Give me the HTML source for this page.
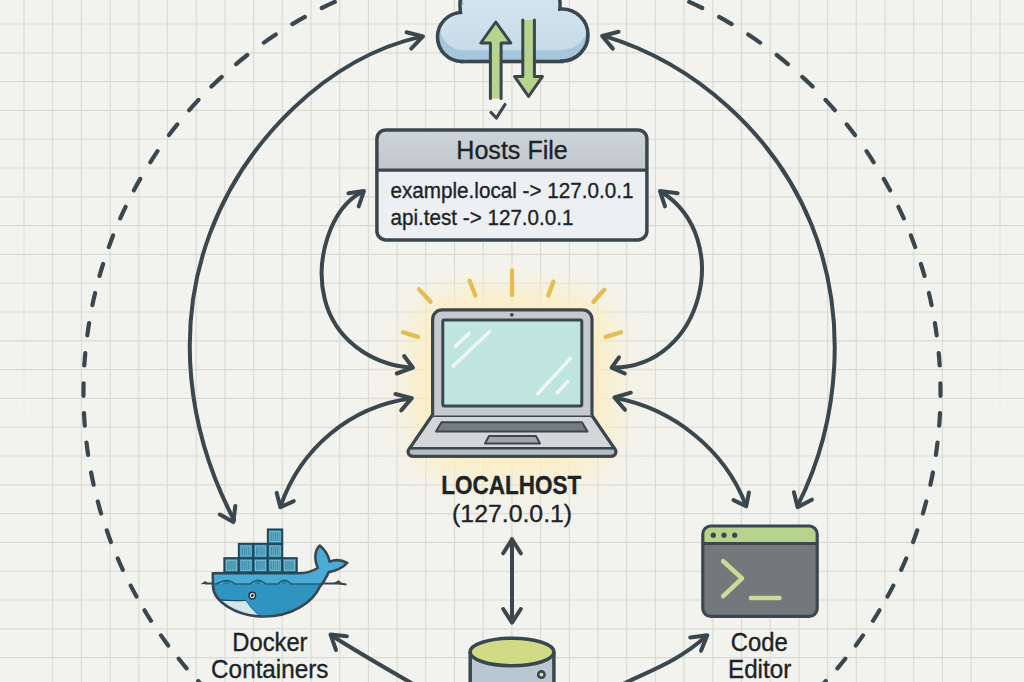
<!DOCTYPE html>
<html><head><meta charset="utf-8"><style>
html,body{margin:0;padding:0;width:1024px;height:682px;overflow:hidden;background:#f2f3ee}
svg{display:block}
text{font-family:"Liberation Sans",sans-serif;stroke:#1d2327;stroke-width:0.35px}
</style></head><body>
<svg width="1024" height="682" viewBox="0 0 1024 682">
<defs>
<radialGradient id="glow" cx="0.5" cy="0.5" r="0.5">
<stop offset="0" stop-color="#fbeab6" stop-opacity="0.7"/>
<stop offset="0.6" stop-color="#fbeec8" stop-opacity="0.4"/>
<stop offset="1" stop-color="#f6f0dc" stop-opacity="0"/>
</radialGradient>
<filter id="blur" x="-50%" y="-50%" width="200%" height="200%"><feGaussianBlur stdDeviation="14"/></filter>
<linearGradient id="gfade" gradientUnits="userSpaceOnUse" x1="0" y1="0" x2="0" y2="470"><stop offset="0" stop-color="#dadad5"/><stop offset="0.6" stop-color="#dadad5" stop-opacity="0.6"/><stop offset="1" stop-color="#dadad5" stop-opacity="0"/></linearGradient>
<linearGradient id="cloudg" gradientUnits="userSpaceOnUse" x1="0" y1="0" x2="0" y2="62">
<stop offset="0" stop-color="#d5e6f0"/><stop offset="1" stop-color="#c6dbe8"/>
</linearGradient>
<linearGradient id="hdrg" x1="0" y1="0" x2="0" y2="1">
<stop offset="0" stop-color="#ced5da"/><stop offset="1" stop-color="#c1c8cd"/>
</linearGradient>
</defs>
<rect width="1024" height="682" fill="#f2f3ee"/>
<path d="M24 0V682M1000 0V682" stroke="url(#gfade)" stroke-width="1.15" fill="none"/>
<path d="M52.70 0V682 M81.40 0V682 M110.10 0V682 M138.80 0V682 M167.50 0V682 M196.20 0V682 M224.90 0V682 M253.60 0V682 M282.30 0V682 M311.00 0V682 M339.70 0V682 M368.40 0V682 M397.10 0V682 M425.80 0V682 M454.50 0V682 M483.20 0V682 M511.90 0V682 M540.60 0V682 M569.30 0V682 M598.00 0V682 M626.70 0V682 M655.40 0V682 M684.10 0V682 M712.80 0V682 M741.50 0V682 M770.20 0V682 M798.90 0V682 M827.60 0V682 M856.30 0V682 M885.00 0V682 M913.70 0V682 M942.40 0V682 M971.10 0V682 M0 24.00H1024 M0 52.80H1024 M0 81.60H1024 M0 110.40H1024 M0 139.20H1024 M0 168.00H1024 M0 196.80H1024 M0 225.60H1024 M0 254.40H1024 M0 283.20H1024 M0 312.00H1024 M0 340.80H1024 M0 369.60H1024 M0 398.40H1024 M0 427.20H1024 M0 456.00H1024 M0 484.80H1024 M0 513.60H1024 M0 542.40H1024 M0 571.20H1024 M0 600.00H1024 M0 628.80H1024 M0 657.60H1024 M0 686.40H1024" stroke="#dadad5" stroke-width="1.15" fill="none"/>
<ellipse cx="512" cy="385" rx="160" ry="140" fill="url(#glow)"/>
<rect x="418" y="296" width="188" height="176" rx="30" fill="#fdeebd" opacity="0.85" filter="url(#blur)"/>
<path d="M251.4 729.6A426.5 426.5 0 0 1 241.7 721.9M782.3 721.9A426.5 426.5 0 0 1 772.6 729.6M228.5 710.6A426.5 426.5 0 0 1 219.3 702.2M804.7 702.2A426.5 426.5 0 0 1 795.5 710.6M206.9 690.1A426.6 426.6 0 0 1 198.3 681.1M825.7 681.1A426.6 426.6 0 0 1 817.1 690.1M186.6 668.3A426.8 426.8 0 0 1 178.7 658.7M845.3 658.7A426.8 426.8 0 0 1 837.4 668.3M168.2 645.5A427.1 427.1 0 0 1 161.0 635.4M863.0 635.4A427.1 427.1 0 0 1 855.8 645.5M151.0 620.8A427.4 427.4 0 0 1 144.5 610.2M879.5 610.2A427.4 427.4 0 0 1 873.0 620.8M136.5 596.6A427.6 427.6 0 0 1 130.7 585.6M893.3 585.6A427.6 427.6 0 0 1 887.5 596.6M122.8 569.9A427.9 427.9 0 0 1 117.8 558.5M906.2 558.5A427.9 427.9 0 0 1 901.2 569.9M110.9 542.0A428.2 428.2 0 0 1 106.8 530.3M917.2 530.3A428.2 428.2 0 0 1 913.1 542.0M101.1 513.5A428.5 428.5 0 0 1 97.8 501.5M926.2 501.5A428.5 428.5 0 0 1 922.9 513.5M93.6 484.7A428.5 428.5 0 0 1 91.1 472.5M932.9 472.5A428.5 428.5 0 0 1 930.4 484.7M88.1 454.9A428.5 428.5 0 0 1 86.5 442.6M937.5 442.6A428.5 428.5 0 0 1 935.9 454.9M84.8 425.6A428.5 428.5 0 0 1 84.0 413.2M940.0 413.2A428.5 428.5 0 0 1 939.2 425.6M83.5 395.8A428.5 428.5 0 0 1 83.6 383.4M940.4 383.4A428.5 428.5 0 0 1 940.5 395.8M84.3 365.4A428.5 428.5 0 0 1 85.3 353.0M938.7 353.0A428.5 428.5 0 0 1 939.7 365.4M87.3 335.3A428.5 428.5 0 0 1 89.1 323.1M934.9 323.1A428.5 428.5 0 0 1 936.7 335.3M92.4 305.1A428.5 428.5 0 0 1 95.1 293.0M928.9 293.0A428.5 428.5 0 0 1 931.6 305.1M99.5 275.9A428.5 428.5 0 0 1 103.1 264.0M920.9 264.0A428.5 428.5 0 0 1 924.5 275.9M108.8 247.1A428.5 428.5 0 0 1 113.1 235.4M910.9 235.4A428.5 428.5 0 0 1 915.2 247.1M120.2 218.4A428.5 428.5 0 0 1 125.6 206.8M898.4 206.8A428.5 428.5 0 0 1 903.8 218.4M133.9 190.3A428.5 428.5 0 0 1 140.2 178.9M883.8 178.9A428.5 428.5 0 0 1 890.1 190.3M150.3 162.3A428.5 428.5 0 0 1 157.5 151.2M866.5 151.2A428.5 428.5 0 0 1 873.7 162.3M169.0 135.1A428.5 428.5 0 0 1 177.3 124.4M846.7 124.4A428.5 428.5 0 0 1 855.0 135.1M189.2 110.2A428.5 428.5 0 0 1 198.5 99.9M825.5 99.9A428.5 428.5 0 0 1 834.8 110.2M211.4 86.6A428.5 428.5 0 0 1 221.7 76.9M802.3 76.9A428.5 428.5 0 0 1 812.6 86.6M236.1 64.1A428.5 428.5 0 0 1 247.3 55.0M776.7 55.0A428.5 428.5 0 0 1 787.9 64.1M263.9 42.6A428.5 428.5 0 0 1 275.8 34.5M748.2 34.5A428.5 428.5 0 0 1 760.1 42.6M292.4 24.1A428.5 428.5 0 0 1 304.9 16.9M719.1 16.9A428.5 428.5 0 0 1 731.6 24.1M321.8 8.0A428.5 428.5 0 0 1 334.8 1.9M689.2 1.9A428.5 428.5 0 0 1 702.2 8.0M352.4 -5.7A428.5 428.5 0 0 1 365.9 -10.8M658.1 -10.8A428.5 428.5 0 0 1 671.6 -5.7M384.1 -17.0A428.5 428.5 0 0 1 397.9 -21.0M626.1 -21.0A428.5 428.5 0 0 1 639.9 -17.0" fill="none" stroke="#3b474e" stroke-width="4.2" stroke-linecap="round"/>
<path d="M421.2 36.6 C327.5 57.7 245.3 140.0 210.1 233.1 C175.0 326.2 186.9 430.0 234.0 520.0" fill="none" stroke="#3b474e" stroke-width="4.0" stroke-linecap="round"/>
<path d="M406.5 32.2 L423.0 36.4 L411.2 48.6" fill="none" stroke="#3b474e" stroke-width="4.0" stroke-linecap="round" stroke-linejoin="round"/>
<path d="M219.9 514.6 L233.3 522.1 L235.3 505.9" fill="none" stroke="#3b474e" stroke-width="4.0" stroke-linecap="round" stroke-linejoin="round"/>
<path d="M603.8 35.9 C695.8 63.4 775.0 135.1 811.3 224.3 C847.5 313.4 840.7 419.9 797.9 505.2" fill="none" stroke="#3b474e" stroke-width="4.0" stroke-linecap="round"/>
<path d="M618.6 31.7 L602.2 36.0 L612.8 48.6" fill="none" stroke="#3b474e" stroke-width="4.0" stroke-linecap="round" stroke-linejoin="round"/>
<path d="M793.9 492.2 L797.6 507.1 L811.9 499.7" fill="none" stroke="#3b474e" stroke-width="4.0" stroke-linecap="round" stroke-linejoin="round"/>
<path d="M362.3 191.7 C329.8 208.7 315.0 260.0 324.7 298.9 C334.4 337.8 368.8 364.3 411.5 367.7" fill="none" stroke="#3b474e" stroke-width="4.0" stroke-linecap="round"/>
<path d="M404.1 356.0 L412.9 367.7 L396.8 373.5" fill="none" stroke="#3b474e" stroke-width="4.0" stroke-linecap="round" stroke-linejoin="round"/>
<path d="M348.4 193.2 L363.9 191.1 L358.7 206.4" fill="none" stroke="#3b474e" stroke-width="4.0" stroke-linecap="round" stroke-linejoin="round"/>
<path d="M661.5 192.0 C734.8 238.4 702.3 367.9 613.0 367.6" fill="none" stroke="#3b474e" stroke-width="4.0" stroke-linecap="round"/>
<path d="M619.0 357.4 L611.6 367.7 L624.8 373.5" fill="none" stroke="#3b474e" stroke-width="4.0" stroke-linecap="round" stroke-linejoin="round"/>
<path d="M677.6 193.2 L660.0 191.1 L665.0 206.4" fill="none" stroke="#3b474e" stroke-width="4.0" stroke-linecap="round" stroke-linejoin="round"/>
<path d="M410.5 398.5 C349.8 406.7 300.7 448.4 280.6 506.0" fill="none" stroke="#3b474e" stroke-width="4.0" stroke-linecap="round"/>
<path d="M395.4 394.0 L411.8 398.1 L401.2 410.4" fill="none" stroke="#3b474e" stroke-width="4.0" stroke-linecap="round" stroke-linejoin="round"/>
<path d="M276.7 492.9 L280.4 507.3 L293.8 501.1" fill="none" stroke="#3b474e" stroke-width="4.0" stroke-linecap="round" stroke-linejoin="round"/>
<path d="M615.8 398.0 C673.4 408.7 724.9 450.1 745.8 505.0" fill="none" stroke="#3b474e" stroke-width="4.0" stroke-linecap="round"/>
<path d="M630.8 392.7 L614.4 397.5 L625.0 409.8" fill="none" stroke="#3b474e" stroke-width="4.0" stroke-linecap="round" stroke-linejoin="round"/>
<path d="M733.5 500.1 L746.2 506.3 L748.9 492.5" fill="none" stroke="#3b474e" stroke-width="4.0" stroke-linecap="round" stroke-linejoin="round"/>
<path d="M331.5 635.5 C360.5 653.9 390.2 670.9 420.0 688.0" fill="none" stroke="#3b474e" stroke-width="4.0" stroke-linecap="round"/>
<path d="M346.9 636.3 L330.5 634.4 L336.0 650.0" fill="none" stroke="#3b474e" stroke-width="4.0" stroke-linecap="round" stroke-linejoin="round"/>
<path d="M706.0 636.5 C674.5 663.9 649.2 670.4 615.0 688.0" fill="none" stroke="#3b474e" stroke-width="4.0" stroke-linecap="round"/>
<path d="M690.2 637.5 L707.3 635.2 L701.0 650.8" fill="none" stroke="#3b474e" stroke-width="4.0" stroke-linecap="round" stroke-linejoin="round"/>
<path d="M512 540V622" stroke="#3b474e" stroke-width="4.0" stroke-linecap="round"/>
<path d="M503.2 553.3 L512.0 539.2 L520.8 553.3" fill="none" stroke="#3b474e" stroke-width="4.0" stroke-linecap="round" stroke-linejoin="round"/>
<path d="M503.2 609.0 L512.0 622.6 L520.8 609.0" fill="none" stroke="#3b474e" stroke-width="4.0" stroke-linecap="round" stroke-linejoin="round"/>
<g fill="#3b474e" stroke="#3b474e" stroke-width="3.6"><circle cx="462" cy="37" r="24.5" /><circle cx="510" cy="5" r="50" /><circle cx="562" cy="35" r="26" /><rect x="462" y="15" width="100" height="46.5" /></g>
<clipPath id="cclip"><circle cx="462" cy="37" r="22.7" /><circle cx="510" cy="5" r="48.2" /><circle cx="562" cy="35" r="24.2" /><rect x="463.8" y="16.8" width="96.4" height="42.9" /></clipPath>
<g fill="#a6c6dc"><circle cx="462" cy="37" r="22.7" /><circle cx="510" cy="5" r="48.2" /><circle cx="562" cy="35" r="24.2" /><rect x="463.8" y="16.8" width="96.4" height="42.9" /></g>
<g clip-path="url(#cclip)"><g fill="url(#cloudg)" transform="translate(1 -9.5)"><circle cx="462" cy="37" r="22.7" /><circle cx="510" cy="5" r="48.2" /><circle cx="562" cy="35" r="24.2" /><rect x="463.8" y="16.8" width="96.4" height="42.9" /></g></g>
<path d="M490.4 98.4V43H480.8L495.75 22L510.8 43H501.1V98.4Z" fill="#b8d38e"/>
<path d="M490.4 98.4V43H480.8L495.75 22L510.8 43H501.1V98.4" fill="none" stroke="#3b474e" stroke-width="3" stroke-linejoin="round" stroke-linecap="round"/>
<path d="M522.8 20V76.4H514.5L528.6 96.5L542.5 76.4H534.4V20Z" fill="#b8d38e"/>
<path d="M522.8 20V76.4H514.5L528.6 96.5L542.5 76.4H534.4V20" fill="none" stroke="#3b474e" stroke-width="3" stroke-linejoin="round" stroke-linecap="round"/>
<path d="M491 112.5L496.4 118L505 104.5" fill="none" stroke="#3b474e" stroke-width="3.2" stroke-linecap="round" stroke-linejoin="round"/>
<rect x="376.7" y="129.7" width="270.4" height="110.4" rx="8" fill="#edf0f2"/>
<path d="M376.7 170.4V137.7A8 8 0 0 1 384.7 129.7H639.1A8 8 0 0 1 647.1 137.7V170.4Z" fill="url(#hdrg)"/>
<rect x="376.9" y="129.9" width="270" height="110" rx="9" fill="none" stroke="#3b474e" stroke-width="3.5"/>
<path d="M376.7 170.2H647.1" stroke="#3b474e" stroke-width="3.3"/>
<text x="456.3" y="158.75" font-size="25" textLength="111.5" lengthAdjust="spacingAndGlyphs" fill="#1d2327">Hosts File</text>
<text x="390.5" y="197.8" font-size="22.4" textLength="243" lengthAdjust="spacingAndGlyphs" fill="#1d2327">example.local -&gt; 127.0.0.1</text>
<text x="390.5" y="224.6" font-size="22.4" textLength="183" lengthAdjust="spacingAndGlyphs" fill="#1d2327">api.test -&gt; 127.0.0.1</text>
<path d="M512.0 270.3L512.0 294.9" stroke="#e3bc52" stroke-width="4.3" stroke-linecap="round"/>
<path d="M469.6 280.7L475.3 295.6" stroke="#e3bc52" stroke-width="4.3" stroke-linecap="round"/>
<path d="M553.4 281.8L548.3 295.6" stroke="#e3bc52" stroke-width="4.3" stroke-linecap="round"/>
<path d="M419.1 289.4L430.6 301.8" stroke="#e3bc52" stroke-width="4.3" stroke-linecap="round"/>
<path d="M604.3 289.8L593.5 301.8" stroke="#e3bc52" stroke-width="4.3" stroke-linecap="round"/>
<path d="M403.0 332.3L418.0 336.9" stroke="#e3bc52" stroke-width="4.3" stroke-linecap="round"/>
<path d="M605.7 336.9L621.0 332.3" stroke="#e3bc52" stroke-width="4.3" stroke-linecap="round"/>
<path d="M432 415.6L409.5 448.5Q407.5 451 408.5 453.5Q409.5 456.3 413 456.3H611Q614.5 456.3 615.5 453.5Q616.5 451 614.5 448.5L592 415.6Z" fill="#d3d7da" stroke="#3b474e" stroke-width="3" stroke-linejoin="round"/>
<path d="M409.6 448.3H614.4L615.2 452.6Q614.5 455 611 455H413Q409.5 455 408.8 452.6Z" fill="#b5bbbf"/>
<path d="M409.3 448.3H614.7" stroke="#3b474e" stroke-width="2.4"/>
<path d="M432 415.6L409.5 448.5Q407.5 451 408.5 453.5Q409.5 456.3 413 456.3H611Q614.5 456.3 615.5 453.5Q616.5 451 614.5 448.5L592 415.6Z" fill="none" stroke="#3b474e" stroke-width="3" stroke-linejoin="round"/>
<path d="M441.5 422.3H582L587.5 431.6H436Z" fill="#757c82" stroke="#3b474e" stroke-width="2" stroke-linejoin="round"/>
<path d="M489 436H536L540 443.4H485Z" fill="#a0a6ab" stroke="#3b474e" stroke-width="2" stroke-linejoin="round"/>
<path d="M432.6 415.6V319.3A9.5 9.5 0 0 1 442.1 309.8H582.5A9.5 9.5 0 0 1 592 319.3V415.6" fill="#c6cace" stroke="#3b474e" stroke-width="3.2" stroke-linejoin="round"/>
<rect x="442.8" y="320.1" width="139" height="86" rx="1.5" fill="#bfe5de" stroke="#3b474e" stroke-width="3"/>
<circle cx="511.8" cy="314.8" r="1.9" fill="#3b474e"/>
<path d="M455.3 346.4L469.2 333.4" stroke="#eaf7f3" stroke-width="3.6" stroke-linecap="round"/>
<path d="M453.4 365.9L489.6 331.5" stroke="#eaf7f3" stroke-width="3.6" stroke-linecap="round"/>
<path d="M537.8 393.7L570.3 358.4" stroke="#eaf7f3" stroke-width="3.6" stroke-linecap="round"/>
<path d="M557.3 392.8L567.5 381.6" stroke="#eaf7f3" stroke-width="3.6" stroke-linecap="round"/>
<text x="441.2" y="494.3" font-size="25.6" font-weight="bold" textLength="140.0" lengthAdjust="spacingAndGlyphs" fill="#1f2326">LOCALHOST</text>
<text x="452.1" y="521.9" font-size="24.8" textLength="120" lengthAdjust="spacingAndGlyphs" fill="#1f2326">(127.0.0.1)</text>
<path d="M205 583.6H338.5L346.5 584.6" fill="none" stroke="#3b474e" stroke-width="2"/>
<path d="M200.5 584.2L205 581L209 583.8Z" fill="#3b474e"/>
<path d="M332 584L338.4 580.2L344 584.2Z" fill="#3b474e"/>
<clipPath id="wclip"><path d="M212.8 573.2H300C306 573.2 312 571.5 317.8 568C314.5 561 314 551 319.8 545.5C324 549 328 553 329.5 561.6C335 559.5 342 560 347.3 562.8C344 567 336 571 328.7 572.1C326 578 323 583 319.8 586.6C313 602 292 616.5 264 616.5C236 616.5 213 601 213 586Z"/></clipPath>
<path d="M212.8 573.2H300C306 573.2 312 571.5 317.8 568C314.5 561 314 551 319.8 545.5C324 549 328 553 329.5 561.6C335 559.5 342 560 347.3 562.8C344 567 336 571 328.7 572.1C326 578 323 583 319.8 586.6C313 602 292 616.5 264 616.5C236 616.5 213 601 213 586Z" fill="#3094c0"/>
<g clip-path="url(#wclip)">
<path d="M200 530H360V584H200Z" fill="#4aacd6"/>
<path d="M200 584H216L222 581.5Q226.8 579.5 231.5 581.8L235 584H250L254 581.5Q257.9 579.2 261.8 581.5L266 584H278L281 581.5Q284.3 579.3 287.6 581.5L291 584H360" fill="none" stroke="#1f5f7c" stroke-width="1.7" stroke-linejoin="round"/>
<path d="M222 584L226.8 580.3L231.5 584ZM254 584L257.9 580.3L261.8 584ZM281 584L284.3 580.3L287.6 584Z" fill="#1f5f7c" opacity="0.6"/>
<path d="M205 599.8Q225 601.5 246 600.4Q252 610 261 617L200 620Z" fill="#d3e6ea"/>
<path d="M216 599.6Q232 601.2 246 600.4" fill="none" stroke="#1f4e62" stroke-width="1.4"/>
<path d="M246 600.4Q252 610 261 616.5" fill="none" stroke="#2a7fa6" stroke-width="1.2"/>
</g>
<path d="M212.8 573.2H300C306 573.2 312 571.5 317.8 568C314.5 561 314 551 319.8 545.5C324 549 328 553 329.5 561.6C335 559.5 342 560 347.3 562.8C344 567 336 571 328.7 572.1C326 578 323 583 319.8 586.6C313 602 292 616.5 264 616.5C236 616.5 213 601 213 586Z" fill="none" stroke="#3b474e" stroke-width="2.6" stroke-linejoin="round"/>
<circle cx="252.3" cy="595.6" r="3.3" fill="#f4f7f8" stroke="#1f3440" stroke-width="1.5"/>
<circle cx="252.3" cy="595.6" r="1.5" fill="#1f3440"/>
<rect x="224.3" y="558.1" width="14.5" height="14.37" fill="#3a8fae" stroke="#1f4656" stroke-width="1.9"/>
<rect x="226.5" y="560.3" width="10.1" height="9.9" fill="none" stroke="#8ac4d9" stroke-width="0.8"/>
<path d="M228.9 560.7V569.9M230.9 560.7V569.9M232.9 560.7V569.9M234.9 560.7V569.9" stroke="#7ab8cf" stroke-width="0.7"/>
<rect x="238.8" y="558.1" width="14.5" height="14.37" fill="#3a8fae" stroke="#1f4656" stroke-width="1.9"/>
<rect x="241.0" y="560.3" width="10.1" height="9.9" fill="none" stroke="#8ac4d9" stroke-width="0.8"/>
<path d="M243.4 560.7V569.9M245.4 560.7V569.9M247.4 560.7V569.9M249.4 560.7V569.9" stroke="#7ab8cf" stroke-width="0.7"/>
<rect x="253.3" y="558.1" width="14.5" height="14.37" fill="#3a8fae" stroke="#1f4656" stroke-width="1.9"/>
<rect x="255.5" y="560.3" width="10.1" height="9.9" fill="none" stroke="#8ac4d9" stroke-width="0.8"/>
<path d="M257.9 560.7V569.9M259.9 560.7V569.9M261.9 560.7V569.9M263.9 560.7V569.9" stroke="#7ab8cf" stroke-width="0.7"/>
<rect x="267.8" y="558.1" width="14.5" height="14.37" fill="#3a8fae" stroke="#1f4656" stroke-width="1.9"/>
<rect x="270.0" y="560.3" width="10.1" height="9.9" fill="none" stroke="#8ac4d9" stroke-width="0.8"/>
<path d="M272.4 560.7V569.9M274.4 560.7V569.9M276.4 560.7V569.9M278.4 560.7V569.9" stroke="#7ab8cf" stroke-width="0.7"/>
<rect x="282.3" y="558.1" width="14.5" height="14.37" fill="#3a8fae" stroke="#1f4656" stroke-width="1.9"/>
<rect x="284.5" y="560.3" width="10.1" height="9.9" fill="none" stroke="#8ac4d9" stroke-width="0.8"/>
<path d="M286.9 560.7V569.9M288.9 560.7V569.9M290.9 560.7V569.9M292.9 560.7V569.9" stroke="#7ab8cf" stroke-width="0.7"/>
<rect x="238.8" y="543.8" width="14.5" height="14.37" fill="#3a8fae" stroke="#1f4656" stroke-width="1.9"/>
<rect x="241.0" y="546.0" width="10.1" height="9.9" fill="none" stroke="#8ac4d9" stroke-width="0.8"/>
<path d="M243.4 546.4V555.6M245.4 546.4V555.6M247.4 546.4V555.6M249.4 546.4V555.6" stroke="#7ab8cf" stroke-width="0.7"/>
<rect x="253.3" y="543.8" width="14.5" height="14.37" fill="#3a8fae" stroke="#1f4656" stroke-width="1.9"/>
<rect x="255.5" y="546.0" width="10.1" height="9.9" fill="none" stroke="#8ac4d9" stroke-width="0.8"/>
<path d="M257.9 546.4V555.6M259.9 546.4V555.6M261.9 546.4V555.6M263.9 546.4V555.6" stroke="#7ab8cf" stroke-width="0.7"/>
<rect x="267.8" y="543.8" width="14.5" height="14.37" fill="#3a8fae" stroke="#1f4656" stroke-width="1.9"/>
<rect x="270.0" y="546.0" width="10.1" height="9.9" fill="none" stroke="#8ac4d9" stroke-width="0.8"/>
<path d="M272.4 546.4V555.6M274.4 546.4V555.6M276.4 546.4V555.6M278.4 546.4V555.6" stroke="#7ab8cf" stroke-width="0.7"/>
<rect x="267.8" y="529.4" width="14.5" height="14.37" fill="#3a8fae" stroke="#1f4656" stroke-width="1.9"/>
<rect x="270.0" y="531.6" width="10.1" height="9.9" fill="none" stroke="#8ac4d9" stroke-width="0.8"/>
<path d="M272.4 532.0V541.2M274.4 532.0V541.2M276.4 532.0V541.2M278.4 532.0V541.2" stroke="#7ab8cf" stroke-width="0.7"/>
<text x="232.3" y="651" font-size="24.9" textLength="75.2" lengthAdjust="spacingAndGlyphs" fill="#1f2326">Docker</text>
<text x="211.1" y="678.1" font-size="24.9" textLength="117.4" lengthAdjust="spacingAndGlyphs" fill="#1f2326">Containers</text>
<rect x="702.8" y="526" width="114.4" height="90.4" rx="8" fill="#73787b"/>
<path d="M702.8 543.2V534A8 8 0 0 1 710.8 526H809.2A8 8 0 0 1 817.2 534V543.6Z" fill="#b7d38b"/>
<rect x="702.8" y="526" width="114.4" height="90.4" rx="8" fill="none" stroke="#3b474e" stroke-width="3.2"/>
<path d="M702.8 543.6H817.2" stroke="#3b474e" stroke-width="3"/>
<circle cx="713.3" cy="535.2" r="2.6" fill="#3b474e"/>
<circle cx="724.0" cy="535.2" r="2.6" fill="#3b474e"/>
<circle cx="734.7" cy="535.2" r="2.6" fill="#3b474e"/>
<path d="M723.2 561.2L742 578.4L723.2 596.2" fill="none" stroke="#c8dc9b" stroke-width="4.6" stroke-linecap="round" stroke-linejoin="round"/>
<path d="M751 598H779.5" stroke="#c8dc9b" stroke-width="4.6" stroke-linecap="round"/>
<text x="730.7" y="651" font-size="24.9" textLength="57.0" lengthAdjust="spacingAndGlyphs" fill="#1f2326">Code</text>
<text x="728.0" y="678.1" font-size="24.9" textLength="63.2" lengthAdjust="spacingAndGlyphs" fill="#1f2326">Editor</text>
<path d="M470.2 652V700H553.9V652" fill="#b9c7d2" stroke="#3b474e" stroke-width="3.5"/>
<ellipse cx="512" cy="652" rx="41.9" ry="13.8" fill="#d1db86" stroke="#3b474e" stroke-width="3.5"/>
<circle cx="541.4" cy="674.6" r="3.2" fill="#d8e8a8" stroke="#3b474e" stroke-width="2.6"/>
</svg>
</body></html>
